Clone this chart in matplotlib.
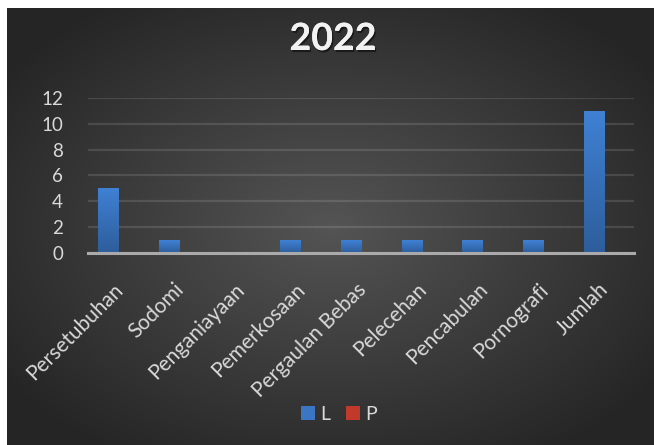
import numpy as np
import matplotlib
matplotlib.use("Agg")
import matplotlib.pyplot as plt
from matplotlib.patches import Patch
from matplotlib.transforms import ScaledTranslation
import matplotlib.patheffects as pe

plt.rcParams['font.family'] = ['Lato', 'DejaVu Sans']

# Data
categories = ["Persetubuhan", "Sodomi", "Penganiayaan", "Pemerkosaan",
              "Pergaulan Bebas", "Pelecehan", "Pencabulan", "Pornografi", "Jumlah"]
values_l = [5, 1, 0, 1, 1, 1, 1, 1, 11]
values_p = [0, 0, 0, 0, 0, 0, 0, 0, 0]
series_names = ["L", "P"]
y_ticks = [0, 2, 4, 6, 8, 10, 12]
title = "2022"

W, H = 654, 445
fig = plt.figure(figsize=(W / 100, H / 100), dpi=100, facecolor="white")

# Dark radial-gradient chart background
bg = fig.add_axes([7 / W, 0, 1 - 7 / W, 1 - 8 / H], zorder=-10)
ny, nx = 300, 440
yy, xx = np.mgrid[0:ny, 0:nx]
cx, cy = 0.50 * nx, 0.50 * ny
r = np.sqrt(((xx - cx) / (0.62 * nx)) ** 2 + ((yy - cy) / (0.62 * ny)) ** 2)
r = np.clip(r, 0, 1)
inner = np.array([0x54, 0x54, 0x54]) / 255
outer = np.array([0x25, 0x25, 0x25]) / 255
img = inner[None, None, :] * (1 - r[..., None]) + outer[None, None, :] * r[..., None]
bg.imshow(img, aspect="auto", extent=[0, 1, 0, 1], interpolation="bilinear")
bg.set_axis_off()

# Plot area
ax = fig.add_axes([88 / W, 1 - 253 / H, (634 - 88) / W, (253 - 98) / H])
ax.set_facecolor("none")
n = len(categories)
x = np.arange(n) + 0.5
bw = 0.33

bars_l = ax.bar(x - bw / 2, values_l, width=bw, color="#3a76c4", zorder=3, linewidth=0)
bars_p = ax.bar(x + bw / 2, values_p, width=bw, color="#c0392b", zorder=3, linewidth=0)

# Vertical gradient inside the blue bars
grad = np.linspace(0, 1, 256)[:, None]
top_c = np.array([0x3f, 0x81, 0xd4]) / 255
bot_c = np.array([0x2e, 0x5d, 0x9b]) / 255
gimg = top_c[None, None, :] * (1 - grad[..., None]) + bot_c[None, None, :] * grad[..., None]
gimg = np.repeat(gimg, 2, axis=1)
for b in bars_l:
    h = b.get_height()
    if h <= 0:
        continue
    x0 = b.get_x()
    im = ax.imshow(gimg, extent=[x0, x0 + b.get_width(), 0, h], aspect="auto",
                   zorder=4, interpolation="bilinear")
    im.set_clip_path(b)

ax.set_xlim(0, n)
ax.set_ylim(0, 12)
ax.set_yticks(y_ticks)
ax.set_yticklabels([str(t) for t in y_ticks], fontsize=13.5, color="#d9d9d9")
ax.tick_params(axis="y", length=0, pad=18)
ax.grid(axis="y", color="#ffffff", alpha=0.12, linewidth=1.6, zorder=1)
ax.set_axisbelow(True)

ax.set_xticks(x)
ax.set_xticklabels(categories, rotation=45, ha="right", va="top",
                   rotation_mode="anchor", fontsize=15, color="#d9d9d9")
ax.tick_params(axis="x", length=0, pad=19)
shift = ScaledTranslation(-5 / 100, 0, fig.dpi_scale_trans)
for lbl in ax.get_xticklabels():
    lbl.set_transform(lbl.get_transform() + shift)

for s in ["top", "right", "left"]:
    ax.spines[s].set_visible(False)
ax.spines["bottom"].set_color("#aaaaaa")
ax.spines["bottom"].set_linewidth(2.2)
ax.spines["bottom"].set_zorder(5)

# Title
fig.text(333 / W, 1 - 39 / H, title, ha="center", va="center", fontsize=27,
         fontweight="bold", color="#f2f2f2",
         path_effects=[pe.withSimplePatchShadow(offset=(1, -1.5), shadow_rgbFace="black", alpha=0.5),
                       pe.Normal()])

# Legend
handles = [Patch(facecolor="#3a76c4", edgecolor="none"),
           Patch(facecolor="#c0392b", edgecolor="none")]
fig.legend(handles, series_names, loc="center", bbox_to_anchor=(339 / W, 1 - 414 / H),
           ncol=2, frameon=False, fontsize=14, labelcolor="#d9d9d9",
           handlelength=0.7, handleheight=0.7, handletextpad=0.3, columnspacing=0.8)

fig.savefig("out.png", dpi=100, facecolor="white")
